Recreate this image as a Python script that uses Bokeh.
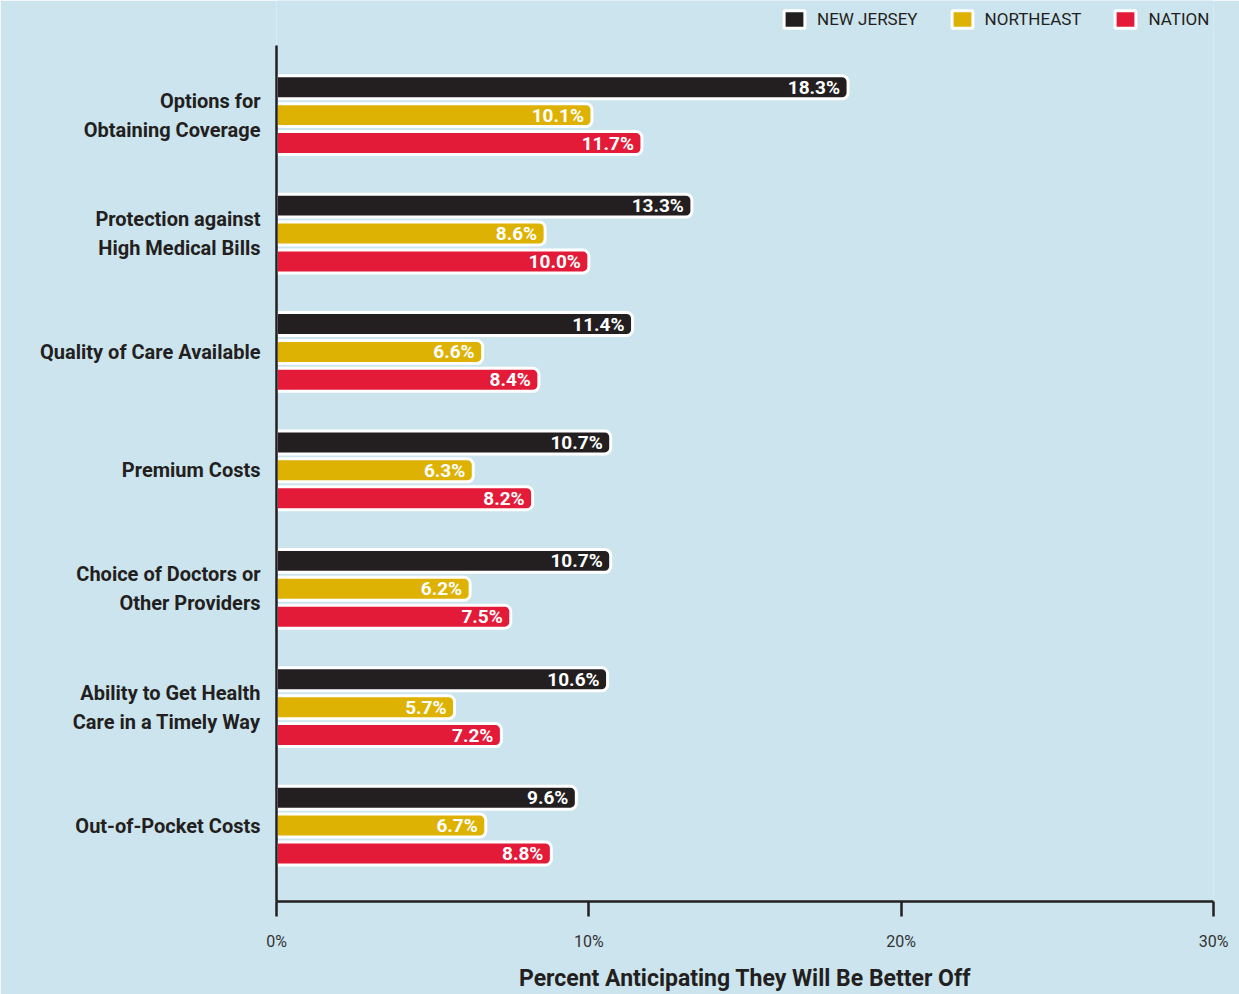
from bokeh.plotting import figure
from bokeh.models import Range1d, FixedTicker, PrintfTickFormatter, Legend, LegendItem
from bokeh.core.properties import value
from bokeh.embed import file_html
from bokeh.resources import INLINE

categories = [
    "Options for\nObtaining Coverage",
    "Protection against\nHigh Medical Bills",
    "Quality of Care Available",
    "Premium Costs",
    "Choice of Doctors or\nOther Providers",
    "Ability to Get Health\nCare in a Timely Way",
    "Out-of-Pocket Costs",
]
series_names = ["NEW JERSEY", "NORTHEAST", "NATION"]
new_jersey = [18.3, 13.3, 11.4, 10.7, 10.7, 10.6, 9.6]
northeast = [10.1, 8.6, 6.6, 6.3, 6.2, 5.7, 6.7]
nation = [11.7, 10.0, 8.4, 8.2, 7.5, 7.2, 8.8]
x_ticks = [0, 10, 20, 30]

colors = ["#231f20", "#ddb203", "#e31a38"]
BG = "#cce4ee"
INK = "#231f20"
FONT = "Roboto"

p = figure(width=1239, height=994, output_backend="svg", toolbar_location=None,
           x_range=Range1d(0, 30), y_range=Range1d(6.641, -0.968),
           min_border_left=276, min_border_right=26, min_border_top=0, min_border_bottom=90)
p.background_fill_color = BG
p.border_fill_color = BG
p.outline_line_color = None
p.xgrid.grid_line_color = None
p.ygrid.grid_line_color = None

off = 0.2357
h = 0.194
renderers = []
for j, vals in enumerate([new_jersey, northeast, nation]):
    ys = [i + (j - 1) * off for i in range(len(categories))]
    r = p.hbar(y=ys, left=0, right=vals, height=h, fill_color=colors[j],
               line_color="white", line_width=3, border_radius=(0, 6, 6, 0))
    renderers.append(r)
    p.text(x=vals, y=ys, text=[f"{v:.1f}%" for v in vals], x_offset=-8,
           text_align="right", text_baseline="middle", text_color="white",
           text_font=value(FONT), text_font_style="bold", text_font_size="19px")

# x axis
xa = p.xaxis[0]
xa.ticker = FixedTicker(ticks=x_ticks)
xa.formatter = PrintfTickFormatter(format="%d%%")
xa.axis_line_color = INK
xa.axis_line_width = 2.5
xa.major_tick_line_color = INK
xa.major_tick_line_width = 2.5
xa.major_tick_out = 15
xa.major_tick_in = 0
xa.minor_tick_line_color = None
xa.major_label_text_font = FONT
xa.major_label_text_font_size = "16px"
xa.major_label_text_color = "#333333"
xa.major_label_standoff = 15
xa.axis_label = "Percent Anticipating They Will Be Better Off"
xa.axis_label_text_font = FONT
xa.axis_label_text_font_style = "bold"
xa.axis_label_text_font_size = "23px"
xa.axis_label_text_color = INK
xa.axis_label_standoff = 11

# y axis
ya = p.yaxis[0]
ya.ticker = FixedTicker(ticks=list(range(len(categories))))
ya.bounds = (-0.589, 6.641)
ya.major_label_overrides = {i: c for i, c in enumerate(categories)}
ya.axis_line_color = INK
ya.axis_line_width = 2.5
ya.major_tick_line_color = None
ya.minor_tick_line_color = None
ya.major_label_text_font = FONT
ya.major_label_text_font_style = "bold"
ya.major_label_text_font_size = "20px"
ya.major_label_text_color = INK
ya.major_label_standoff = 10

legend = Legend(items=[LegendItem(label=s, renderers=[r]) for s, r in zip(series_names, renderers)],
                location=(505, 871), orientation="horizontal",
                glyph_width=26, glyph_height=22, label_standoff=10, spacing=31,
                padding=0, margin=0, background_fill_alpha=0, border_line_alpha=0,
                label_text_font=FONT, label_text_font_size="17px", label_text_color=INK,
                label_height=22)
p.add_layout(legend)

html = file_html(p, INLINE)
open("out.html", "w").write(html)
